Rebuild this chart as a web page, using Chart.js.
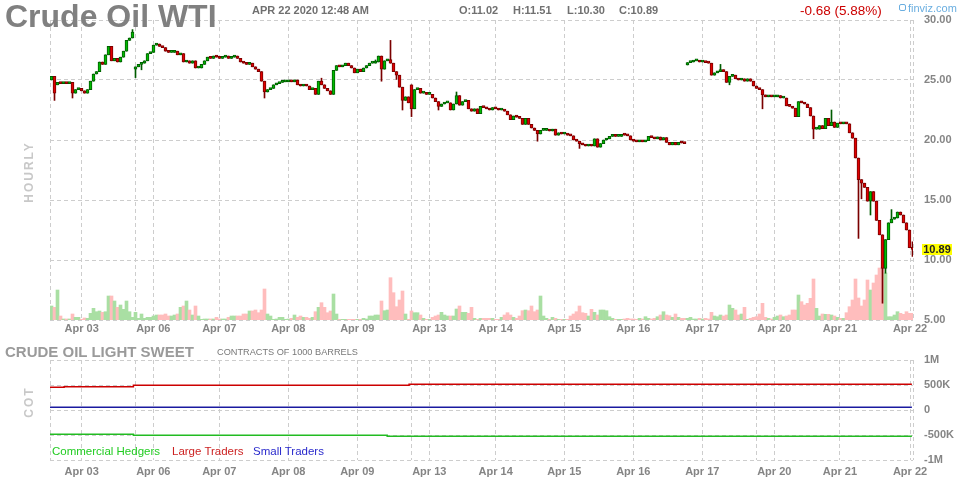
<!DOCTYPE html>
<html>
<head>
<meta charset="utf-8">
<script src="https://cdn.jsdelivr.net/npm/chart.js@4.4.1/dist/chart.umd.min.js"></script>
<style>
html,body{margin:0;padding:0;background:#fff;}
#wrap{position:relative;width:964px;height:480px;overflow:hidden;font-family:'Liberation Sans',Arial,sans-serif;}
#wrap canvas{position:absolute;left:0;}
.t{position:absolute;white-space:nowrap;line-height:1;}
</style>
</head>
<body>
<div id="wrap">
  <canvas id="priceChart" width="964" height="340" style="top:0"></canvas>
  <canvas id="cotChart" width="964" height="140" style="top:340px"></canvas>

  <div class="t" style="left:5px;top:-0.5px;font-size:32px;font-weight:bold;color:#808080;">Crude Oil WTI</div>
  <div class="t" style="left:252px;top:5px;font-size:11px;font-weight:bold;color:#707070;">APR 22 2020 12:48 AM</div>
  <div class="t" style="left:459px;top:5px;font-size:11px;font-weight:bold;color:#707070;">O:11.02</div>
  <div class="t" style="left:513px;top:5px;font-size:11px;font-weight:bold;color:#707070;">H:11.51</div>
  <div class="t" style="left:567px;top:5px;font-size:11px;font-weight:bold;color:#707070;">L:10.30</div>
  <div class="t" style="left:619px;top:5px;font-size:11px;font-weight:bold;color:#707070;">C:10.89</div>
  <div class="t" style="left:800px;top:3.6px;font-size:13.5px;color:#cc0000;">-0.68 (5.88%)</div>
  <div class="t" style="left:899px;top:4px;width:5px;height:5px;border:1px solid #6aaee0;border-radius:2px;"></div>
  <div class="t" style="left:908px;top:2.5px;font-size:11px;color:#6aaee0;">finviz.com</div>

  <div class="t" style="left:29px;top:172px;font-size:12px;font-weight:bold;letter-spacing:2px;color:#c8c8c8;transform:translate(-50%,-50%) rotate(-90deg);">HOURLY</div>
  <div class="t" id="lastBox" style="left:922px;top:244px;width:30px;height:11px;background:#ffff00;font-size:11px;font-weight:bold;color:#222;text-align:center;line-height:11px;">10.89</div>

  <div class="t" style="left:5px;top:343.8px;font-size:15px;font-weight:bold;color:#9a9a9a;">CRUDE OIL LIGHT SWEET</div>
  <div class="t" style="left:217px;top:347.9px;font-size:9.2px;color:#777;">CONTRACTS OF 1000 BARRELS</div>
  <div class="t" style="left:29px;top:402px;font-size:12px;font-weight:bold;letter-spacing:2px;color:#c8c8c8;transform:translate(-50%,-50%) rotate(-90deg);">COT</div>
  <div class="t" style="left:52px;top:446.3px;font-size:11.5px;color:#22cc22;">Commercial Hedgers</div>
  <div class="t" style="left:172px;top:446.3px;font-size:11.5px;color:#cc2222;">Large Traders</div>
  <div class="t" style="left:253px;top:446.3px;font-size:11.5px;color:#2a2acc;">Small Traders</div>
</div>
<script>
// ---- hourly closes (one per trading hour, Apr 02 -> Apr 22) ----
const closes = [
 25.3, 23.9, 24.8, 24.7, 24.8, 24.7, 24.8, 23.9, 24.2, 24.3,
 24.1, 23.9, 24.2, 24.9, 25.5, 25.7, 26.5, 26.3, 27.1, 27.8,
 26.6, 26.8, 26.5, 26.9, 27.4, 28.3, 28.5, 29.0, 26.1, 26.3,
 26.4, 26.6, 27.2, 27.3, 27.9, 28.0, 27.8, 27.7, 27.4, 27.3,
 27.3, 27.4, 27.1, 27.2, 26.5, 26.6, 26.4, 26.6, 26.0, 26.0,
 26.3, 26.6, 26.9, 26.8, 27.0, 26.9, 26.8, 26.9, 27.0, 26.8,
 26.9, 27.0, 26.8, 26.5, 26.4, 26.3, 26.4, 26.1, 25.9, 25.7,
 24.9, 24.0, 24.2, 24.3, 24.6, 24.7, 24.8, 24.85, 24.85, 24.9,
 24.85, 25.0, 24.6, 24.5, 24.6, 24.5, 24.2, 24.3, 23.8, 24.9,
 24.6, 24.3, 24.1, 23.8, 25.8, 26.2, 26.1, 26.2, 26.4, 26.2,
 26.0, 25.6, 25.9, 25.7, 26.0, 26.2, 26.4, 26.4, 26.5, 27.0,
 25.9, 26.6, 26.7, 26.4, 25.7, 25.4, 24.4, 23.3, 23.6, 23.1,
 22.6, 24.2, 24.3, 23.9, 23.9, 23.8, 23.8, 23.5, 23.2, 22.8,
 23.0, 23.1, 23.1, 22.5, 23.0, 23.7, 22.9, 23.2, 23.3, 22.6,
 22.4, 22.6, 22.2, 22.8, 22.7, 22.6, 22.5, 22.7, 22.6, 22.5,
 22.5, 22.4, 22.1, 21.7, 22.0, 21.9, 21.8, 21.3, 21.8, 21.3,
 21.0, 20.8, 20.5, 20.8, 20.8, 20.85, 20.75, 20.9, 20.4, 20.6,
 20.5, 20.5, 20.4, 20.35, 20.0, 19.9, 19.7, 19.6, 19.5, 19.55,
 19.5, 20.1, 19.4, 19.7, 20.0, 20.1, 20.3, 20.4, 20.3, 20.3,
 20.45, 20.4, 20.35, 20.0, 19.9, 19.85, 19.95, 19.85, 19.95, 20.3,
 20.2, 20.1, 20.25, 20.0, 20.2, 19.8, 19.6, 19.8, 19.6, 19.8,
 19.75, 19.7, 26.45, 26.5, 26.6, 26.6, 26.5, 26.5, 26.45, 26.4,
 25.4, 25.6, 25.7, 25.85, 25.7, 24.8, 25.3, 25.4, 25.1, 25.0,
 25.1, 24.9, 25.1, 24.9, 24.5, 24.3, 24.2, 23.75, 23.6, 23.65,
 23.6, 23.6, 23.7, 23.5, 23.5, 22.85, 22.8, 22.65, 21.95, 23.2,
 23.1, 23.0, 22.7, 22.0, 20.9, 20.9, 21.2, 20.95, 21.8, 21.2,
 21.5, 21.05, 21.4, 21.35, 21.4, 21.35, 20.6, 20.15, 18.5, 16.7,
 16.4, 16.05, 14.9, 15.7, 14.9, 13.3, 12.1, 9.3, 11.7, 13.1,
 13.4, 13.5, 14.0, 13.75, 13.1, 12.5, 11.02, 10.89
];
// opens that differ from the previous close (session gaps / contract roll): [index, open]
const gapOpens = [[0, 25.0], [2, 24.6], [28, 25.9], [120, 24.6], [212, 26.25]];
// wicks beyond the body: [index, low, high]
const wicks = [
 [1, 23.3, null], [7, 23.5, null], [27, null, 29.2], [28, 25.2, null], [30, 25.85, null],
 [71, 23.5, null], [90, null, 25.15], [108, null, 26.67], [110, 24.9, null], [113, null, 28.3],
 [115, 25.05, null], [117, 22.5, null], [120, 21.95, null], [129, 22.5, null], [135, null, 24.0],
 [162, 19.9, null], [176, 19.3, null], [223, null, 26.3], [226, 24.6, null], [237, 22.6, null],
 [254, 20.1, null], [260, null, 22.5], [269, 11.8, null], [270, 15.1, null], [273, 13.75, null],
 [277, 6.4, null], [278, 8.9, null], [280, null, 14.2], [287, 10.3, 11.51]
];
// hourly volume (relative units)
const volumes = [
 14, 12.7, 30, 4, 1, 1, 1, 6, 2.7, 2.7,
 0.7, 2, 1.7, 6.7, 11.7, 8.3, 9, 7.7, 8.3, 24,
 24, 19, 12.7, 15, 10.7, 19, 8.3, 2.7, 7.7, 1.7,
 6, 1.7, 2.7, 2.7, 4, 5, 5, 5, 6, 4,
 4, 5, 6, 12.7, 14, 19, 10, 5, 14, 4,
 0.7, 1, 1, 1, 1, 2.7, 1, 1, 1, 2.7,
 4, 4, 4, 4, 6, 6, 9, 9, 10, 7.3,
 10, 31, 6, 4, 0.7, 1, 2.7, 2.7, 0.7, 1,
 1.7, 5, 2.7, 4, 2.7, 2.7, 1.7, 2.7, 8.3, 12.7,
 17.3, 12.7, 7.3, 9, 26, 6, 0.7, 0.7, 0.7, 0.7,
 0.7, 0.7, 0.7, 0.7, 1.7, 1, 4, 4, 5, 5,
 19, 9.3, 10, 42.3, 27.3, 13.3, 20, 29, 6, 0.7,
 9, 7.3, 7.3, 5, 1.7, 0.7, 0.7, 2.7, 4, 5,
 7.7, 5, 4, 4, 4, 11, 14, 7.7, 7.7, 6.7,
 12.7, 1.7, 0.7, 1.7, 1.7, 1.7, 1.7, 1.7, 0.7, 0.7,
 2.7, 5, 7.3, 5, 2.7, 1.7, 4, 9.3, 10, 9.3,
 14, 8.3, 10, 24, 4, 1.7, 0.7, 2.7, 1.7, 0.7,
 0.7, 0.7, 0.7, 4, 6, 8.3, 14, 7.3, 6.7, 4,
 10.7, 7.7, 5, 10, 10, 9.3, 3.3, 1.7, 0.7, 0.7,
 0.7, 1, 1.7, 1, 1, 0.7, 1.7, 1, 3.3, 1.7,
 1, 1.7, 3.3, 5, 8.3, 5, 4.3, 2.7, 6, 2.7,
 1.7, 1.7, 1.7, 2.7, 1, 1, 1.7, 1, 1.7, 1,
 7.7, 4, 3.3, 5, 4, 5, 15, 11.7, 10, 5,
 6, 12.7, 0.7, 1.7, 2.7, 3.3, 6, 16.7, 2.7, 1.7,
 1, 2.7, 4, 5, 3.3, 4, 5, 10, 10, 25,
 18.3, 15, 16.7, 21.7, 41, 11.7, 4, 6, 5.7, 5.7,
 5, 4, 2.7, 1.7, 1.7, 7.3, 13.3, 20, 41, 22,
 14, 20, 40, 30, 37, 45, 52, 52, 47, 3.3,
 3.3, 5, 8.3, 6.7, 5.7, 8.3, 6.7, 6.7
];
// x-axis ticks (in hourly-bar index units) and their labels
const tickPos = [0, 10.57, 28.57, 34.43, 56.43, 79.43, 102.43, 120.57, 126.43, 148.57, 171.43, 194.43, 217.43, 235.57, 241.43, 263.33, 286.67, 287.67];
const tickLabels = ['', 'Apr 03', '', 'Apr 06', 'Apr 07', 'Apr 08', 'Apr 09', '', 'Apr 13', 'Apr 14', 'Apr 15', 'Apr 16', 'Apr 17', '', 'Apr 20', 'Apr 21', 'Apr 22', ''];
const priceTicks = [5, 10, 15, 20, 25, 30];
const cotTicks = [-1000000, -500000, 0, 500000, 1000000];
const cotTickLabels = ['-1M', '-500K', '0', '500K', '1M'];
// COT net positions: [bar index where value takes effect, contracts]
const largeTraders = [[0, 453000], [4.7, 466000], [27.8, 493000], [119.7, 513000]];
const commercialHedgers = [[0, -487000], [27.8, -507000], [112.4, -527000]];
const smallTraders = [[0, 55000]];
const X_MAX = 287.67;

// ---- derived OHLC ----
const opens = closes.map((c, i) => i === 0 ? c : closes[i - 1]);
gapOpens.forEach(([i, o]) => { opens[i] = o; });
const highs = closes.map((c, i) => Math.max(c, opens[i]));
const lows = closes.map((c, i) => Math.min(c, opens[i]));
wicks.forEach(([i, l, h]) => { if (l != null) lows[i] = l; if (h != null) highs[i] = h; });
const up = closes.map((c, i) => c >= opens[i]);

const UP_FILL = '#00bb00', UP_EDGE = '#005c00', DN_FILL = '#e00000', DN_EDGE = '#7a0000';
const VOL_UP = '#a9dfa3', VOL_DN = '#ffbdbd';
const FONT = "'Liberation Sans', Arial, sans-serif";
const GRID = '#cdcdcd';
const DASH = [4, 3];

function xScale(labelPadding) {
  return {
    type: 'linear', min: 0, max: X_MAX, offset: false,
    afterBuildTicks: s => { s.ticks = tickPos.map(v => ({ value: v })); },
    afterFit: s => { s.height = 20; },
    ticks: {
      autoSkip: false, maxRotation: 0, minRotation: 0, padding: labelPadding,
      color: '#858585', font: { family: FONT, size: 11, weight: 'bold' },
      callback: (v, i) => tickLabels[i]
    },
    grid: { color: GRID, lineWidth: 1, drawTicks: false, offset: false, borderDash: DASH },
    border: { display: false, dash: DASH }
  };
}

const priceChart = new Chart(document.getElementById('priceChart'), {
  type: 'bar',
  data: {
    datasets: [
      { type: 'bar', label: 'Volume', yAxisID: 'vol', order: 3, grouped: false, barThickness: 3,
        data: volumes.map((v, i) => ({ x: i + 0.5, y: v })),
        backgroundColor: up.map(u => u ? VOL_UP : VOL_DN) },
      { type: 'bar', label: 'Wick', yAxisID: 'y', order: 2, grouped: false, barThickness: 1,
        data: closes.map((c, i) => ({ x: i + 0.5, y: [lows[i], highs[i]] })),
        backgroundColor: up.map(u => u ? UP_EDGE : DN_EDGE) },
      { type: 'bar', label: 'Price', yAxisID: 'y', order: 1, grouped: false, barThickness: 3,
        minBarLength: 2, borderWidth: 1, borderSkipped: false,
        data: closes.map((c, i) => ({ x: i + 0.5, y: [opens[i], c] })),
        backgroundColor: up.map(u => u ? UP_FILL : DN_FILL),
        borderColor: up.map(u => u ? UP_EDGE : DN_EDGE) }
    ]
  },
  options: {
    responsive: false, animation: false, events: [],
    layout: { padding: { left: 50, top: 20, right: 0, bottom: 0 } },
    plugins: { legend: { display: false }, tooltip: { enabled: false } },
    scales: {
      x: xScale(2),
      y: {
        type: 'linear', position: 'right', min: 5, max: 30,
        afterBuildTicks: s => { s.ticks = priceTicks.map(v => ({ value: v })); },
        afterFit: s => { s.width = 51; },
        ticks: { padding: 11, color: '#858585', font: { family: FONT, size: 11, weight: 'bold' },
                 callback: v => Number(v).toFixed(2) },
        grid: { color: GRID, lineWidth: 1, drawTicks: false, borderDash: DASH },
        border: { display: false, dash: DASH }
      },
      vol: { type: 'linear', display: false, min: 0, max: 300 }
    }
  }
});

// last-price marker placed through the price scale
const lastY = priceChart.scales.y.getPixelForValue(closes[closes.length - 1]);
document.getElementById('lastBox').style.top = (lastY - 5.5) + 'px';

function stepData(steps) {
  const pts = steps.map(([x, y]) => ({ x, y }));
  pts.push({ x: 287.3, y: steps[steps.length - 1][1] });
  return pts;
}

new Chart(document.getElementById('cotChart'), {
  type: 'line',
  data: {
    datasets: [
      { label: 'Large Traders', data: stepData(largeTraders), borderColor: '#cc0000', borderWidth: 1.5, pointRadius: 0, stepped: true, fill: false },
      { label: 'Small Traders', data: stepData(smallTraders), borderColor: '#1a1aa0', borderWidth: 1.5, pointRadius: 0, stepped: true, fill: false },
      { label: 'Commercial Hedgers', data: stepData(commercialHedgers), borderColor: '#22bb22', borderWidth: 1.5, pointRadius: 0, stepped: true, fill: false }
    ]
  },
  options: {
    responsive: false, animation: false, events: [],
    layout: { padding: { left: 50, top: 20, right: 0, bottom: 0 } },
    plugins: { legend: { display: false }, tooltip: { enabled: false } },
    scales: {
      x: xScale(5),
      y: {
        type: 'linear', position: 'right', min: -1000000, max: 1000000,
        afterBuildTicks: s => { s.ticks = cotTicks.map(v => ({ value: v })); },
        afterFit: s => { s.width = 51; },
        ticks: { padding: 11, color: '#858585', font: { family: FONT, size: 11, weight: 'bold' },
                 callback: (v, i) => cotTickLabels[i] },
        grid: { color: GRID, lineWidth: 1, drawTicks: false, borderDash: DASH },
        border: { display: false, dash: DASH }
      }
    }
  }
});
</script>
</body>
</html>
